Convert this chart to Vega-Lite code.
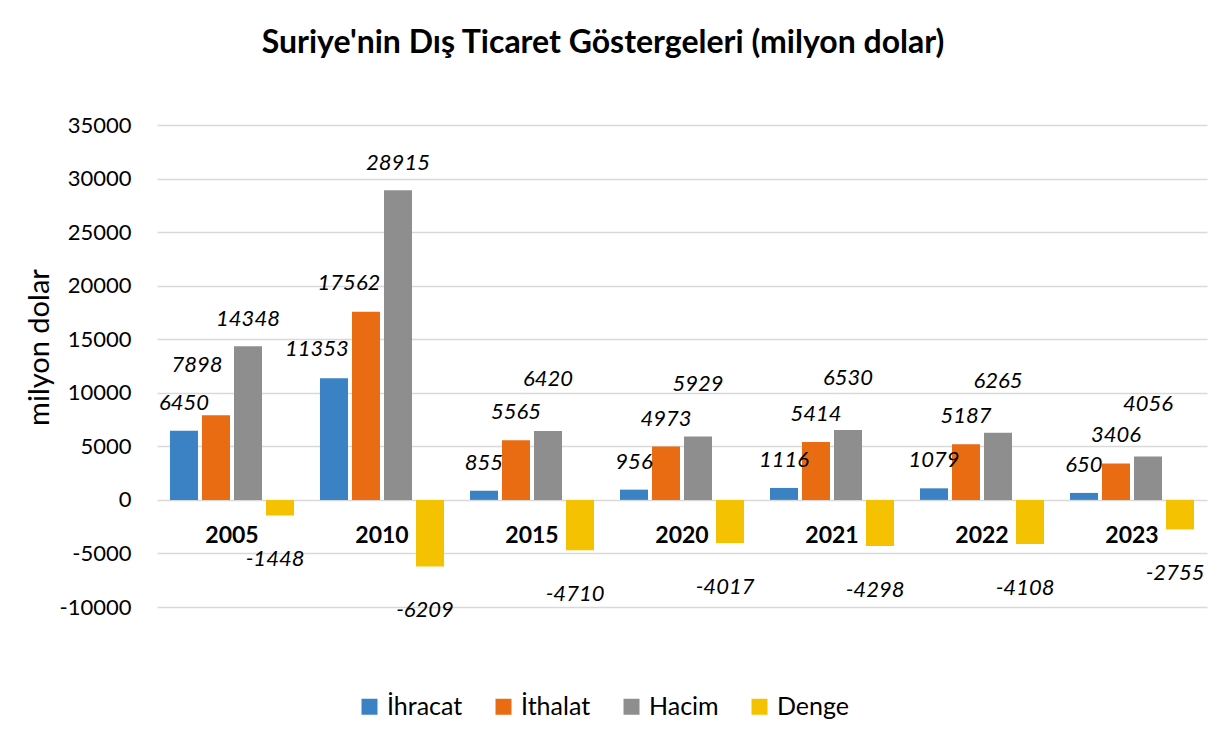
{
  "$schema": "https://vega.github.io/schema/vega-lite/v6.json",
  "width": 1050,
  "height": 482,
  "autosize": {"type": "none"},
  "padding": {"left": 157, "top": 125, "right": 12, "bottom": 148},
  "background": "#ffffff",
  "title": {
    "text": "Suriye'nin Dış Ticaret Göstergeleri (milyon dolar)",
    "font": "Lato",
    "fontSize": 32,
    "fontWeight": "bold",
    "color": "#000000",
    "anchor": "middle",
    "frame": "group",
    "dx": -79,
    "offset": 54
  },
  "config": {
    "view": {"stroke": null},
    "font": "Lato"
  },
  "datasets": {
    "trade": [
      {"year": "2005", "series": "İhracat", "value": 6450},
      {"year": "2005", "series": "İthalat", "value": 7898},
      {"year": "2005", "series": "Hacim", "value": 14348},
      {"year": "2005", "series": "Denge", "value": -1448},
      {"year": "2010", "series": "İhracat", "value": 11353},
      {"year": "2010", "series": "İthalat", "value": 17562},
      {"year": "2010", "series": "Hacim", "value": 28915},
      {"year": "2010", "series": "Denge", "value": -6209},
      {"year": "2015", "series": "İhracat", "value": 855},
      {"year": "2015", "series": "İthalat", "value": 5565},
      {"year": "2015", "series": "Hacim", "value": 6420},
      {"year": "2015", "series": "Denge", "value": -4710},
      {"year": "2020", "series": "İhracat", "value": 956},
      {"year": "2020", "series": "İthalat", "value": 4973},
      {"year": "2020", "series": "Hacim", "value": 5929},
      {"year": "2020", "series": "Denge", "value": -4017},
      {"year": "2021", "series": "İhracat", "value": 1116},
      {"year": "2021", "series": "İthalat", "value": 5414},
      {"year": "2021", "series": "Hacim", "value": 6530},
      {"year": "2021", "series": "Denge", "value": -4298},
      {"year": "2022", "series": "İhracat", "value": 1079},
      {"year": "2022", "series": "İthalat", "value": 5187},
      {"year": "2022", "series": "Hacim", "value": 6265},
      {"year": "2022", "series": "Denge", "value": -4108},
      {"year": "2023", "series": "İhracat", "value": 650},
      {"year": "2023", "series": "İthalat", "value": 3406},
      {"year": "2023", "series": "Hacim", "value": 4056},
      {"year": "2023", "series": "Denge", "value": -2755}
    ],
    "years": [
      {"year": "2005"}, {"year": "2010"}, {"year": "2015"}, {"year": "2020"},
      {"year": "2021"}, {"year": "2022"}, {"year": "2023"}
    ]
  },
  "data": {"name": "trade"},
  "encoding": {
    "x": {
      "field": "year",
      "type": "nominal",
      "sort": null,
      "axis": null,
      "scale": {"paddingInner": 0.173, "paddingOuter": 0.0865}
    }
  },
  "layer": [
    {
      "mark": {"type": "bar"},
      "encoding": {
        "y": {
          "field": "value",
          "type": "quantitative",
          "scale": {"domain": [-10000, 35000], "nice": false, "zero": true},
          "axis": {
            "title": "milyon dolar",
            "titleFont": "Lato",
            "titleFontSize": 29,
            "titleFontWeight": "normal",
            "titleColor": "#000000",
            "titleX": -118,
            "titleY": 222,
            "titleBaseline": "middle",
            "titleAngle": -90,
            "values": [-10000, -5000, 0, 5000, 10000, 15000, 20000, 25000, 30000, 35000],
            "labelExpr": "toString(datum.value)",
            "labelFont": "Lato",
            "labelFontSize": 22,
            "labelColor": "#000000",
            "labelPadding": 26,
            "ticks": false,
            "domain": false,
            "grid": true,
            "gridColor": "#d9d9d9",
            "gridWidth": 1.5
          }
        },
        "xOffset": {
          "field": "series",
          "type": "nominal",
          "sort": ["İhracat", "İthalat", "Hacim", "Denge"],
          "scale": {"paddingInner": 0.125, "paddingOuter": 0}
        },
        "color": {
          "field": "series",
          "type": "nominal",
          "scale": {
            "domain": ["İhracat", "İthalat", "Hacim", "Denge"],
            "range": ["#3b82c4", "#ea6c12", "#8e8e8e", "#f5c200"]
          },
          "legend": {
            "title": null,
            "orient": "none",
            "direction": "horizontal",
            "legendX": 200,
            "legendY": 569,
            "symbolType": "square",
            "symbolSize": 256,
            "symbolStrokeWidth": 0,
            "labelFont": "Lato",
            "labelFontSize": 25,
            "labelColor": "#000000",
            "labelOffset": 5,
            "columnPadding": 28
          }
        }
      }
    },
    {
      "transform": [{"filter": "datum.value >= 0 && datum.series !== 'Hacim' && datum.value < 7000"}],
      "mark": {"type": "text", "font": "Lato", "fontSize": 22, "fontStyle": "italic", "color": "#000000", "baseline": "middle", "dy": -28},
      "encoding": {
        "y": {"field": "value", "type": "quantitative"},
        "xOffset": {"field": "series", "type": "nominal", "sort": ["İhracat", "İthalat", "Hacim", "Denge"]},
        "text": {"field": "value", "type": "nominal"}
      }
    },
    {
      "transform": [{"filter": "datum.series !== 'Hacim' && datum.value >= 7000 && datum.value < 10000"}],
      "mark": {"type": "text", "font": "Lato", "fontSize": 22, "fontStyle": "italic", "color": "#000000", "baseline": "middle", "dy": -50, "dx": -19},
      "encoding": {
        "y": {"field": "value", "type": "quantitative"},
        "xOffset": {"field": "series", "type": "nominal", "sort": ["İhracat", "İthalat", "Hacim", "Denge"]},
        "text": {"field": "value", "type": "nominal"}
      }
    },
    {
      "transform": [{"filter": "datum.series !== 'Hacim' && datum.value >= 10000"}],
      "mark": {"type": "text", "font": "Lato", "fontSize": 22, "fontStyle": "italic", "color": "#000000", "baseline": "middle", "dy": -29, "dx": -17},
      "encoding": {
        "y": {"field": "value", "type": "quantitative"},
        "xOffset": {"field": "series", "type": "nominal", "sort": ["İhracat", "İthalat", "Hacim", "Denge"]},
        "text": {"field": "value", "type": "nominal"}
      }
    },
    {
      "transform": [{"filter": "datum.series === 'Hacim' && datum.value >= 10000"}],
      "mark": {"type": "text", "font": "Lato", "fontSize": 22, "fontStyle": "italic", "color": "#000000", "baseline": "middle", "dy": -27},
      "encoding": {
        "y": {"field": "value", "type": "quantitative"},
        "xOffset": {"field": "series", "type": "nominal", "sort": ["İhracat", "İthalat", "Hacim", "Denge"]},
        "text": {"field": "value", "type": "nominal"}
      }
    },
    {
      "transform": [{"filter": "datum.series === 'Hacim' && datum.value < 10000"}],
      "mark": {"type": "text", "font": "Lato", "fontSize": 22, "fontStyle": "italic", "color": "#000000", "baseline": "middle", "dy": -52},
      "encoding": {
        "y": {"field": "value", "type": "quantitative"},
        "xOffset": {"field": "series", "type": "nominal", "sort": ["İhracat", "İthalat", "Hacim", "Denge"]},
        "text": {"field": "value", "type": "nominal"}
      }
    },
    {
      "transform": [{"filter": "datum.value < 0"}],
      "mark": {"type": "text", "font": "Lato", "fontSize": 22, "fontStyle": "italic", "color": "#000000", "baseline": "middle", "dy": 44, "dx": -5},
      "encoding": {
        "y": {"field": "value", "type": "quantitative"},
        "xOffset": {"field": "series", "type": "nominal", "sort": ["İhracat", "İthalat", "Hacim", "Denge"]},
        "text": {"field": "value", "type": "nominal"}
      }
    },
    {
      "data": {"name": "years"},
      "mark": {"type": "text", "font": "Lato", "fontSize": 23, "fontWeight": "bold", "color": "#000000", "baseline": "middle", "dy": 36},
      "encoding": {
        "y": {"datum": 0, "type": "quantitative"},
        "text": {"field": "year", "type": "nominal"}
      }
    }
  ]
}
